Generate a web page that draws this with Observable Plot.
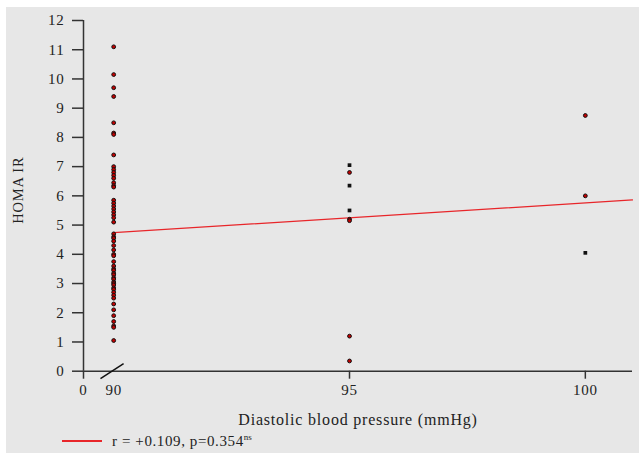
<!DOCTYPE html>
<html>
<head>
<meta charset="utf-8">
<script src="https://cdn.jsdelivr.net/npm/d3@7"></script>
<script src="https://cdn.jsdelivr.net/npm/@observablehq/plot@0.6"></script>
<style>
  html, body { margin: 0; padding: 0; background: #ffffff; }
  #panel { position: absolute; left: 6px; top: 7px; width: 633px; height: 446px; background: #e7e7e7; overflow: hidden; }
  #chart { position: absolute; left: 0; top: 0; }
  #legend { position: absolute; left: 56px; top: 425px; font-family: "Liberation Serif", serif; font-size: 15px; letter-spacing: 0.6px; color: #222; display: flex; align-items: center; }
  #legend .sw { display: inline-block; width: 40px; height: 1.5px; background: #e8262a; margin-right: 10px; }
  #legend sup { font-size: 9px; letter-spacing: 0; }
</style>
</head>
<body>
<div id="panel"><div id="chart"></div><div id="legend"><span class="sw"></span><span>r = +0.109, p=0.354<sup>ns</sup></span></div></div>
<script>
// HOMA IR values at diastolic BP = 90 mmHg
const homaAt90 = [11.1, 10.15, 9.7, 9.4, 8.5, 8.15, 8.1, 7.4, 7.0, 6.9, 6.8, 6.7, 6.6, 6.45, 6.35, 6.3,
  5.85, 5.75, 5.65, 5.55, 5.45, 5.35, 5.25, 5.1, 4.7, 4.6, 4.55, 4.45, 4.3, 4.15, 4.0, 3.95, 3.75,
  3.6, 3.5, 3.45, 3.35, 3.3, 3.2, 3.15, 3.05, 3.0, 2.95, 2.85, 2.8, 2.7, 2.6, 2.5, 2.3, 2.1, 1.9,
  1.7, 1.55, 1.5, 1.05];
// red-centred markers at 95 and 100
const homaAt95 = [6.8, 5.2, 5.15, 1.2, 0.35];
const homaAt100 = [8.75, 6.0];
// black square markers
const blackBP = [95, 95, 95, 100];
const blackHoma = [7.05, 6.35, 5.5, 4.05];
// regression line r = +0.109
const regBP = [90, 101];
const regHoma = [4.74, 5.86];
// axis
const xOrigin = 89.36;          // where "0" sits on the broken axis
const xMax = 101;
const xTickValues = [xOrigin, 95, 100];
const xTickLabels = ["0", "95", "100"];
const yTicks = [0,1,2,3,4,5,6,7,8,9,10,11,12];
const breakMark = [{x1: 89.72, y1: -0.25, x2: 90.21, y2: 0.26}];

const redPts = [
  ...homaAt90.map(h => ({bp: 90, homa: h})),
  ...homaAt95.map(h => ({bp: 95, homa: h})),
  ...homaAt100.map(h => ({bp: 100, homa: h}))
];
const blackPts = blackBP.map((b, i) => ({bp: b, homa: blackHoma[i]}));
const reg = regBP.map((b, i) => ({bp: b, homa: regHoma[i]}));

const font = "Liberation Serif, serif";
const plot = Plot.plot({
  width: 633,
  height: 425,
  marginLeft: 77,
  marginRight: 7,
  marginTop: 13,
  marginBottom: 61.3,
  style: {background: "transparent", fontFamily: font, fontSize: "15px", color: "#222", letterSpacing: "0.8px"},
  x: {domain: [xOrigin, xMax]},
  y: {domain: [0, 12]},
  marks: [
    Plot.axisY({ticks: yTicks, tickSize: 11, tickPadding: 8, label: null, stroke: "#333", strokeWidth: 1.5, fontSize: 15}),
    Plot.axisX({ticks: xTickValues, tickSize: 8, tickPadding: 5, label: null, stroke: "#333", strokeWidth: 1.5,
      tickFormat: d => xTickLabels[xTickValues.indexOf(d)], fontSize: 15}),
    Plot.axisX({ticks: [90], tickSize: 0, tickPadding: 13, label: null, fontSize: 15}),
    Plot.ruleX([xOrigin], {stroke: "#333", strokeWidth: 1.5}),
    Plot.ruleY([0], {stroke: "#333", strokeWidth: 1.5}),
    Plot.link(breakMark, {x1: "x1", y1: "y1", x2: "x2", y2: "y2", stroke: "#111", strokeWidth: 1.5}),
    Plot.line(reg, {x: "bp", y: "homa", stroke: "#e8262a", strokeWidth: 1.3}),
    Plot.dot(blackPts, {x: "bp", y: "homa", symbol: "square", r: 2.1, fill: "#111", stroke: "none"}),
    Plot.dot(redPts, {x: "bp", y: "homa", r: 1.9, fill: "#c40000", stroke: "#111", strokeWidth: 1}),
    Plot.text(["HOMA IR"], {frameAnchor: "left", dx: -65, rotate: -90, fontSize: 14.5, fill: "#222", dy: 28}),
    Plot.text(["Diastolic blood pressure (mmHg)"], {frameAnchor: "bottom", dy: 54, fontSize: 16, fill: "#222", dx: 0})
  ]
});
document.getElementById("chart").appendChild(plot);
</script>
</body>
</html>
